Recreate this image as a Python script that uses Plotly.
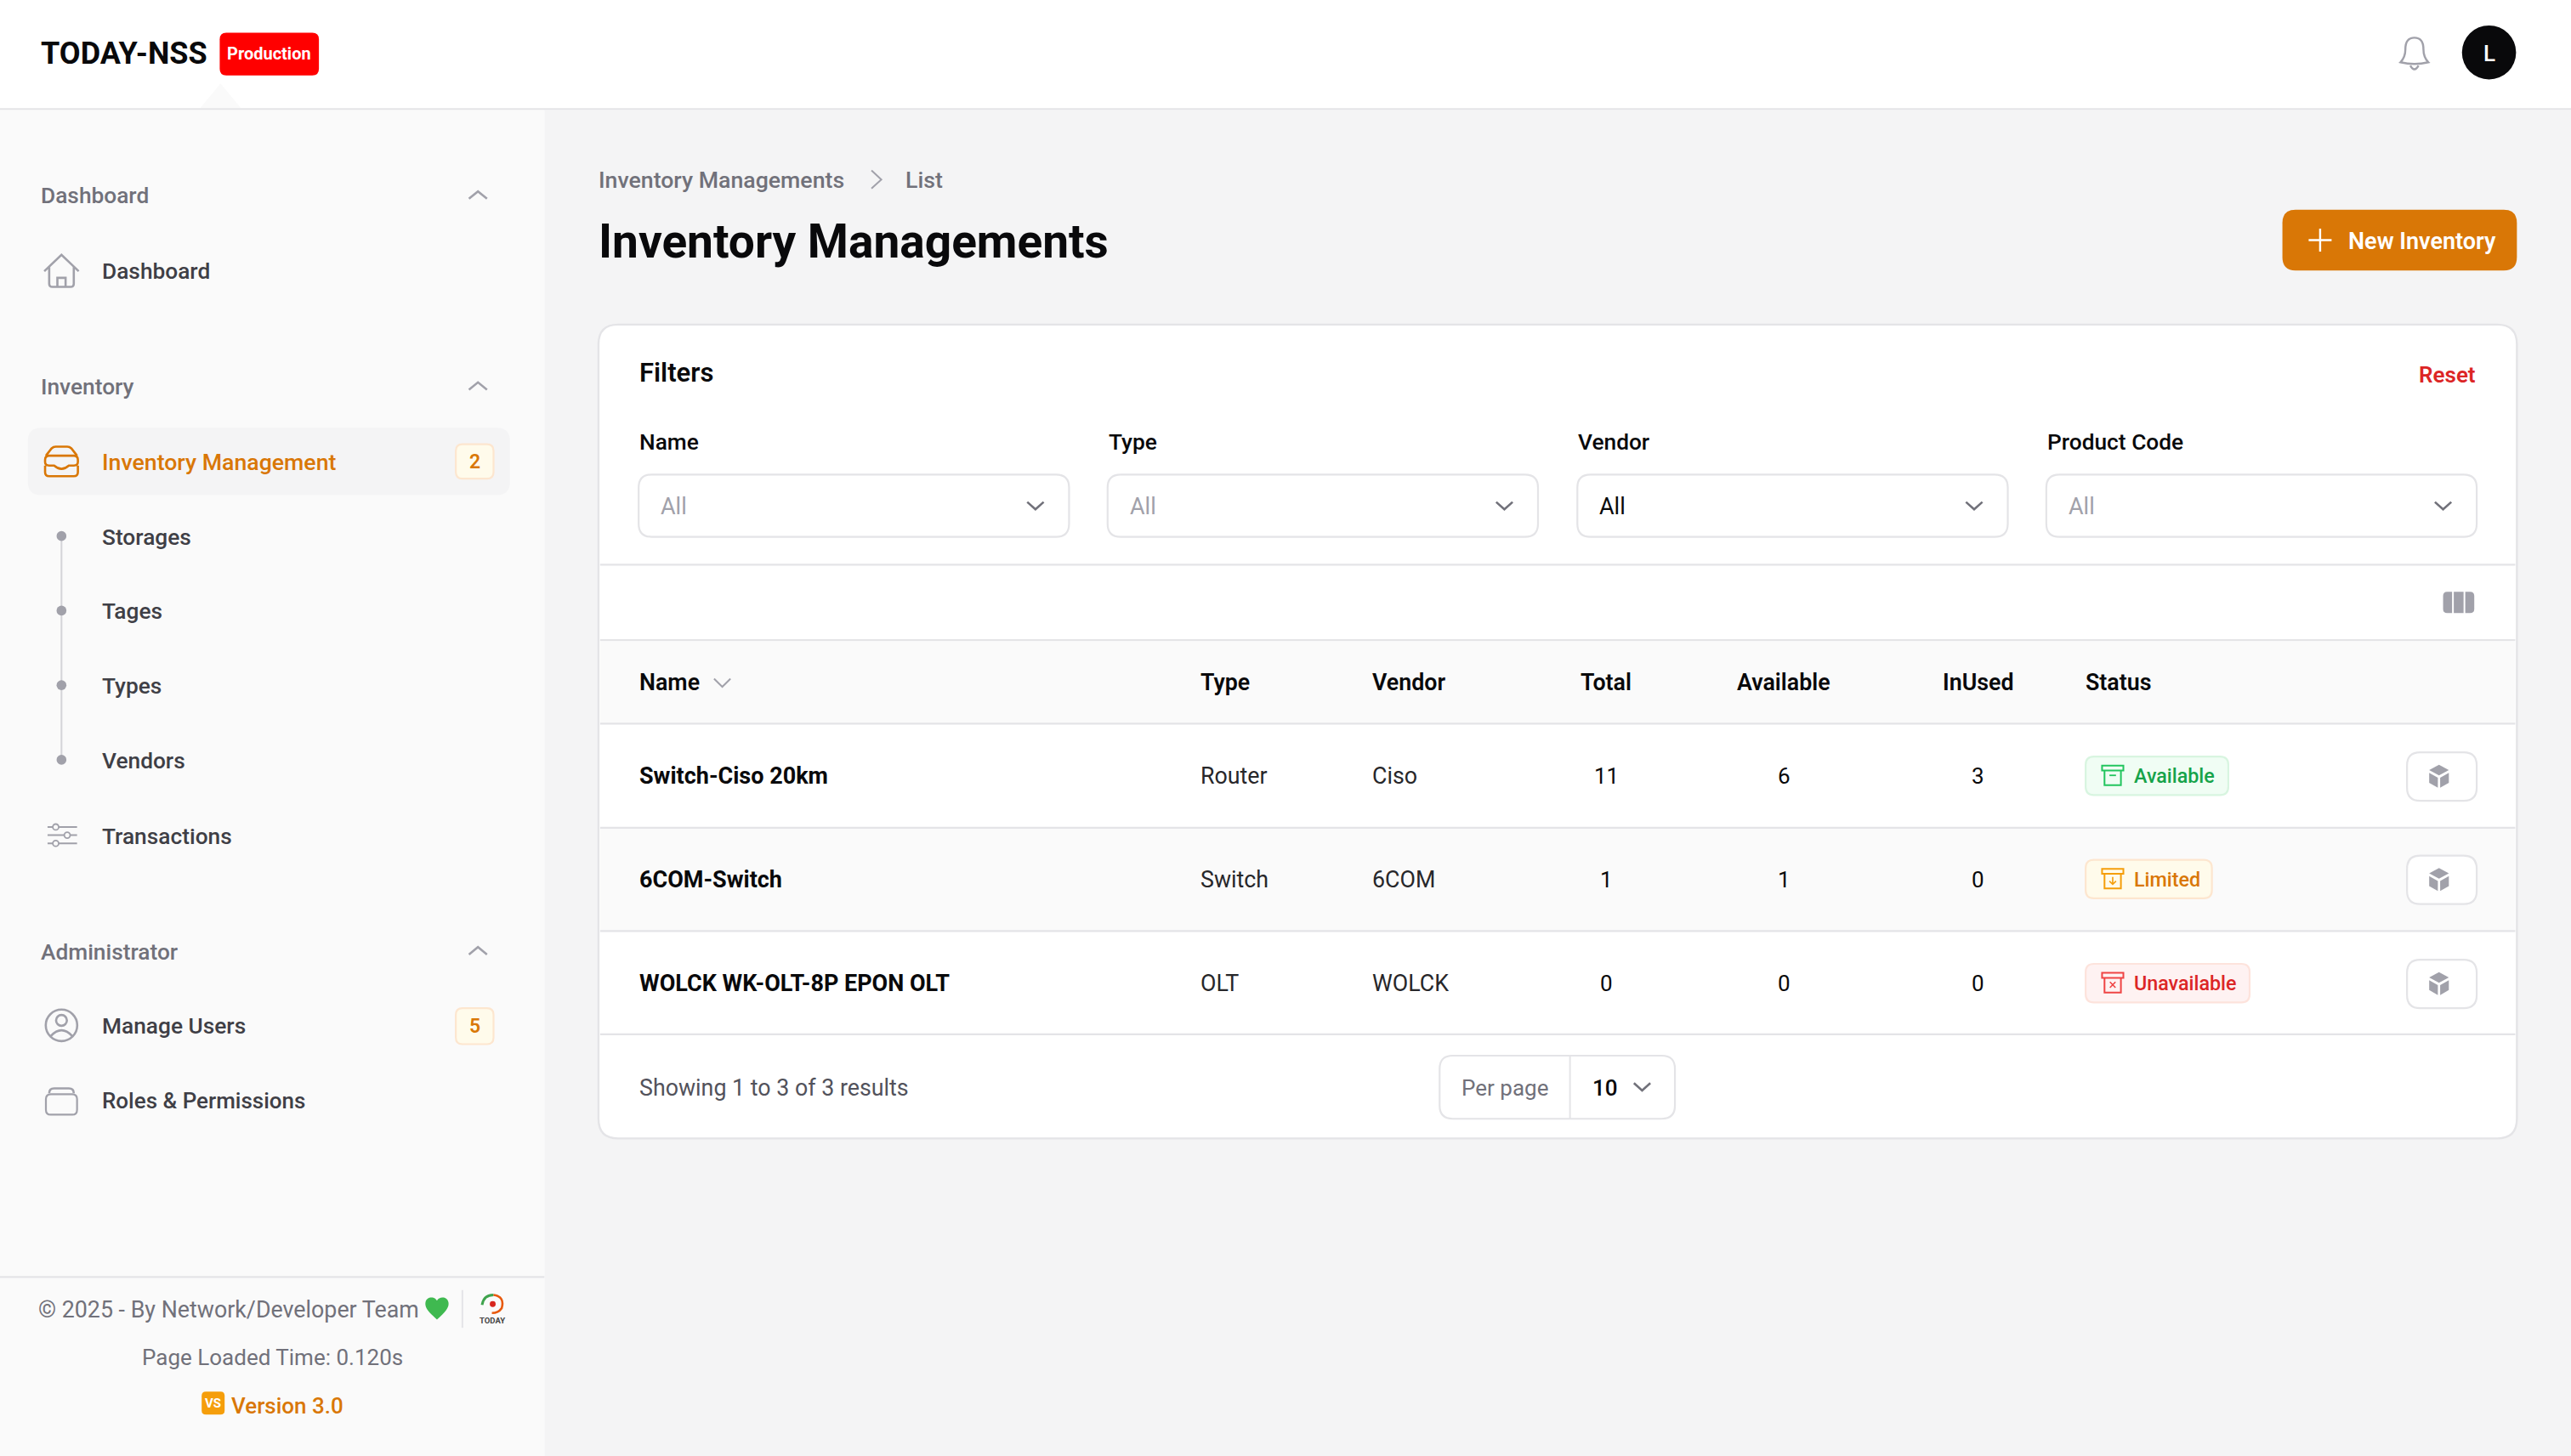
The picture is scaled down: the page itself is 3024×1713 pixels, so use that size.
import plotly.graph_objects as go

# table content
names = ["Switch-Ciso 20km", "6COM-Switch", "WOLCK WK-OLT-8P EPON OLT"]
types = ["Router", "Switch", "OLT"]
vendors = ["Ciso", "6COM", "WOLCK"]
totals = [11, 1, 0]
available = [6, 1, 0]
in_used = [3, 0, 0]
statuses = ["Available", "Limited", "Unavailable"]
headers = ["Name", "Type", "Vendor", "Total", "Available", "InUsed", "Status"]
filter_labels = ["Name", "Type", "Vendor", "Product Code"]
filter_values = ["All", "All", "All", "All"]

# sidebar content
sub_items = ["Storages", "Tages", "Types", "Vendors"]
groups = ["Dashboard", "Inventory", "Administrator"]

# layout, in the coordinates of a 1568 wide page
W, H = 1568, 1713 * 1568 / 3024
FONT = "Roboto"
INK = "#09090b"
DARK = "#27272a"
SOFT = "#3f3f46"
MUTED = "#71717a"
FAINT = "#a1a1aa"
LINE = "#e4e4e7"
ORANGE = "#d97706"
RED = "#dc2626"

col_x = [390, 732, 837, 979.5, 1088, 1206.5, 1272]
row_y = [473, 536, 599.5]
row_top = [442, 505, 568, 631]
filter_x = [389.5, 675.5, 962, 1248]
filter_w = 262.5
badge_w = {"Available": 87, "Limited": 77, "Unavailable": 100}
badge_style = {
    "Available": ("#f0fdf4", "#d8f5e0", "#16a34a", "#22c55e"),
    "Limited": ("#fffbeb", "#fde6cf", "#d97706", "#f59e0b"),
    "Unavailable": ("#fef2f2", "#fde3dc", "#dc2626", "#ef4444"),
}

shapes = []
notes = []


def text(x, y, s, size=27, color=SOFT, weight=400, anchor="left"):
    # Roboto sits a little right of and above the page's own font
    notes.append(dict(x=x - 0.5 if anchor == "left" else x, y=y + 0.5, text=s, xref="x", yref="y",
                      showarrow=False, borderpad=0, xanchor=anchor, yanchor="middle",
                      font=dict(family=FONT, size=size, color=color, weight=weight)))


def rect_path(x0, y0, x1, y1, r):
    return (f"M{x0 + r},{y0} H{x1 - r} Q{x1},{y0} {x1},{y0 + r} V{y1 - r} Q{x1},{y1} {x1 - r},{y1} "
            f"H{x0 + r} Q{x0},{y1} {x0},{y1 - r} V{y0 + r} Q{x0},{y0} {x0 + r},{y0} Z")


def rrect(x0, y0, x1, y1, r=8, fill="rgba(0,0,0,0)", line=None, lw=2.2):
    shapes.append(dict(type="path", path=rect_path(x0, y0, x1, y1, r), fillcolor=fill,
                       line=dict(color=line or "rgba(0,0,0,0)", width=lw if line else 0)))


def box(x0, y0, x1, y1, fill):
    shapes.append(dict(type="rect", x0=x0, y0=y0, x1=x1, y1=y1, fillcolor=fill, line=dict(width=0)))


def stroke(path, color=FAINT, lw=2.6):
    shapes.append(dict(type="path", path=path, line=dict(color=color, width=lw)))


def solid(path, color):
    shapes.append(dict(type="path", path=path, fillcolor=color, line=dict(width=0)))


def hline(y, x0, x1, color=LINE, lw=2.2):
    shapes.append(dict(type="line", x0=x0, x1=x1, y0=y, y1=y, line=dict(color=color, width=lw)))


def circle(cx, cy, r, fill="rgba(0,0,0,0)", line=None, lw=2.6):
    shapes.append(dict(type="circle", x0=cx - r, x1=cx + r, y0=cy - r, y1=cy + r, fillcolor=fill,
                       line=dict(color=line or "rgba(0,0,0,0)", width=lw if line else 0)))


def chevron(cx, cy, w=5, h=4.5, up=False, color=MUTED, lw=2.6):
    d = -h if up else h
    stroke(f"M{cx - w},{cy - d / 2} L{cx},{cy + d / 2} L{cx + w},{cy - d / 2}", color, lw)


# page backgrounds
box(332, 67, W, H, "#f4f4f5")
box(0, 67, 332, H, "#fafafa")
solid("M122,66 L134.5,51 L147,66 Z", "#fafafa")
hline(66.5, 0, W)

# top bar
text(25, 32, "TODAY-NSS", 36, INK, 700)
rrect(134, 20, 194.5, 46, 4, fill="#ff0000")
text(164.2, 32, "Production", 20, "#ffffff", 700, "center")
stroke("M1464,38 Q1467,35 1467,30 Q1467,23 1472.5,23 Q1478,23 1478,30 Q1478,35 1481,38 "
       "Q1472.5,40 1464,38 Z M1470,40 Q1472.5,44.5 1475,40", FAINT, 2.4)
circle(1518, 32, 16.5, fill=INK)
text(1518, 32, "L", 26, "#ffffff", 500, "center")

# sidebar groups
group_y = [119, 235.5, 580]
for label, y in zip(groups, group_y):
    text(25, y, label, 26.3, MUTED, 500)
    chevron(291.5, y, 5.5, 4.5, up=True, color=FAINT)

text(62, 165, "Dashboard", 26.3, SOFT, 500)
stroke("M27,165.5 L37.5,155.5 L48,165.5 M30,163 V173 Q30,175 32,175 H43 Q45,175 45,173 V163 "
       "M35,175 V169.5 H40 V175", FAINT)

rrect(17, 261, 311, 302, 8, fill="#f4f4f5")
text(62, 281.5, "Inventory Management", 26.7, ORANGE, 500)
stroke("M28,278 L31.5,273.5 Q32.5,272.5 34,272.5 H41 Q42.5,272.5 43.5,273.5 L47,278 "
       "M30,278 H45 Q47.5,278 47.5,280.5 V282 Q47.5,284 45,284 H42 Q37.5,288 33,284 H30 Q27.5,284 27.5,282 "
       "V280.5 Q27.5,278 30,278 Z M27.5,284 V288 Q27.5,290.5 30,290.5 H45 Q47.5,290.5 47.5,288 V284", ORANGE)
rrect(278, 271, 301, 292, 4, fill="#fffbeb", line="#fde6cf")
text(289.5, 281.5, "2", 23, ORANGE, 600, "center")

sub_y = [327, 372.5, 418, 463.5]
shapes.append(dict(type="line", x0=37.5, x1=37.5, y0=sub_y[0], y1=sub_y[-1], line=dict(color="#d4d4d8", width=2)))
for label, y in zip(sub_items, sub_y):
    circle(37.5, y, 3, fill=FAINT)
    text(62, y, label, 26.3, SOFT, 500)

text(62, 509.5, "Transactions", 26.3, SOFT, 500)
for ly, lx in zip([504.5, 509.5, 514.5], [34, 41, 34]):
    hline(ly, 29, 47, FAINT, 2)
    circle(lx, ly, 1.8, fill="#fafafa", line=FAINT, lw=1.8)

text(62, 625.5, "Manage Users", 26.3, SOFT, 500)
circle(37.5, 625.5, 9.6, line=FAINT)
circle(37.5, 622.5, 3.3, line=FAINT)
stroke("M31,632 Q37.5,625 44,632", FAINT)
rrect(278, 615, 301, 637, 4, fill="#fffbeb", line="#fde6cf")
text(289.5, 625.7, "5", 23, ORANGE, 600, "center")

text(62, 671, "Roles & Permissions", 26, SOFT, 500)
rrect(28, 667.5, 47, 680, 3, line=FAINT)
stroke("M30,667 Q30,664 33,664 H42 Q45,664 45,667", FAINT)

# sidebar footer
hline(779, 0, 332)
text(23.5, 798.5, "© 2025 - By Network/Developer Team", 26.8, MUTED, 400)
solid("M266.5,805 C261,800 259,797.5 259.5,794.5 C260,791 265,790.5 266.5,793.5 "
      "C268,790.5 273,791 273.5,794.5 C274,797.5 272,800 266.5,805 Z", "#3fb950")
shapes.append(dict(type="line", x0=282, x1=282, y0=787, y1=810, line=dict(color=LINE, width=2)))
stroke("M294,796 Q295,790 301,790", "#3fa34d", 3)
stroke("M301,790 Q308,791 306,798 Q304,801 300,801", "#e8590c", 2.6)
circle(300.5, 795.5, 1.8, fill="#d7261e")
text(300, 805, "TODAY", 9.5, "#444444", 700, "center")
text(166, 827.5, "Page Loaded Time: 0.120s", 26, MUTED, 400, "center")
rrect(123, 849, 137, 863, 2.5, fill="#f59e0b")
text(130, 855.5, "VS", 15, "#ffffff", 700, "center")
text(141, 857, "Version 3.0", 26, ORANGE, 500)

# page heading
text(365, 109.5, "Inventory Managements", 26.7, MUTED, 500)
stroke("M531.5,104 L537.5,109.5 L531.5,115", FAINT, 2)
text(552, 109.5, "List", 26.7, MUTED, 500)
text(365, 146.5, "Inventory Managements", 55, INK, 700)
rrect(1392, 128, 1535, 165, 8, fill=ORANGE)
stroke("M1408,146.5 H1422 M1415,139.5 V153.5", "#ffffff", 2.4)
text(1432, 146.5, "New Inventory", 27, "#ffffff", 600)

# card
rrect(365, 198, 1535, 694.5, 12, fill="#ffffff", line=LINE, lw=2.4)
text(390, 227, "Filters", 31, INK, 600)
text(1510.5, 228, "Reset", 26, RED, 600, "right")
for i, label in enumerate(filter_labels):
    text(filter_x[i] + 0.5, 269, label, 26.3, INK, 500)
    rrect(filter_x[i], 289.5, filter_x[i] + filter_w, 327.5, 8, fill="#ffffff", line=LINE)
    text(filter_x[i] + 13.5, 308.5, filter_values[i], 27, INK if label == "Vendor" else FAINT, 400)
    chevron(filter_x[i] + filter_w - 20.5, 308.5)

hline(344.5, 366, 1534)
rrect(1490, 361, 1509, 374, 2.5, fill=FAINT)
for gap_x in [1496, 1503]:
    shapes.append(dict(type="line", x0=gap_x, x1=gap_x, y0=360, y1=375, line=dict(color="#ffffff", width=2)))
hline(390.5, 366, 1534)

# table
box(366, 391.5, 1534, 441, "#fafafa")
box(366, row_top[1], 1534, row_top[2], "#fafafa")
for y in row_top:
    hline(y if y != 442 else 441.5, 366, 1534)

for i, label in enumerate(headers):
    anchor = "center" if 3 <= i <= 5 else "left"
    text(col_x[i], 416, label, 26.8, INK, 600, anchor)
chevron(440.5, 416.5, 5, 5, color=FAINT, lw=2)

for r, y in enumerate(row_y):
    text(col_x[0], y, names[r], 27, INK, 700)
    text(col_x[1], y, types[r], 26.8, DARK, 400)
    text(col_x[2], y, vendors[r], 26.8, DARK, 400)
    text(col_x[3], y, str(totals[r]), 26, INK, 400, "center")
    text(col_x[4], y, str(available[r]), 26, INK, 400, "center")
    text(col_x[5], y, str(in_used[r]), 26, INK, 400, "center")

    status = statuses[r]
    fill, edge, ink, glyph = badge_style[status]
    rrect(1272, y - 11.5, 1272 + badge_w[status], y + 12, 5, fill=fill, line=edge)
    stroke(f"M1282,{y - 6} H1295 V{y - 3} H1282 Z M1283.5,{y - 3} V{y + 6} H1293.5 V{y - 3}", glyph, 2)
    if status == "Available":
        stroke(f"M1286.5,{y} H1290.5", glyph, 1.8)
    elif status == "Limited":
        stroke(f"M1288.5,{y - 1} V{y + 3.5} M1286.5,{y + 1.5} L1288.5,{y + 3.5} L1290.5,{y + 1.5}", glyph, 1.6)
    else:
        stroke(f"M1286.8,{y - 0.5} L1290.2,{y + 3} M1290.2,{y - 0.5} L1286.8,{y + 3}", glyph, 1.6)
    text(1301.5, y, status, 23.3, ink, 500)

    # action button with the cube
    rrect(1468, y - 14, 1510.5, y + 15.5, 8, fill="#ffffff", line=LINE)
    solid(f"M1487.5,{y - 6.5} L1493.5,{y - 3.2} L1487.5,{y} L1481.5,{y - 3.2} Z", FAINT)
    solid(f"M1481.5,{y - 1.5} L1486.8,{y + 1.5} L1486.8,{y + 7.5} L1481.5,{y + 4.5} Z", FAINT)
    solid(f"M1493.5,{y - 1.5} L1488.2,{y + 1.5} L1488.2,{y + 7.5} L1493.5,{y + 4.5} Z", FAINT)

# pagination
text(390, 663, "Showing 1 to 3 of 3 results", 26.8, "#52525b", 400)
rrect(878, 644, 1021.5, 682.5, 8, fill="#ffffff", line=LINE)
shapes.append(dict(type="line", x0=957.5, x1=957.5, y0=644, y1=682.5, line=dict(color=LINE, width=2)))
text(918, 663, "Per page", 26, MUTED, 400, "center")
text(971, 663, "10", 26, INK, 500)
chevron(1001.5, 663)

fig = go.Figure()
fig.update_layout(
    width=3024, height=1713,
    margin=dict(l=0, r=0, t=0, b=0),
    paper_bgcolor="#ffffff", plot_bgcolor="#ffffff",
    xaxis=dict(range=[0, W], visible=False, fixedrange=True),
    yaxis=dict(range=[H, 0], visible=False, fixedrange=True),
    showlegend=False, shapes=shapes, annotations=notes,
)
fig.write_html("out.html", config=dict(displayModeBar=False),
               post_script="document.body.style.margin='0';document.body.style.overflow='hidden';")
